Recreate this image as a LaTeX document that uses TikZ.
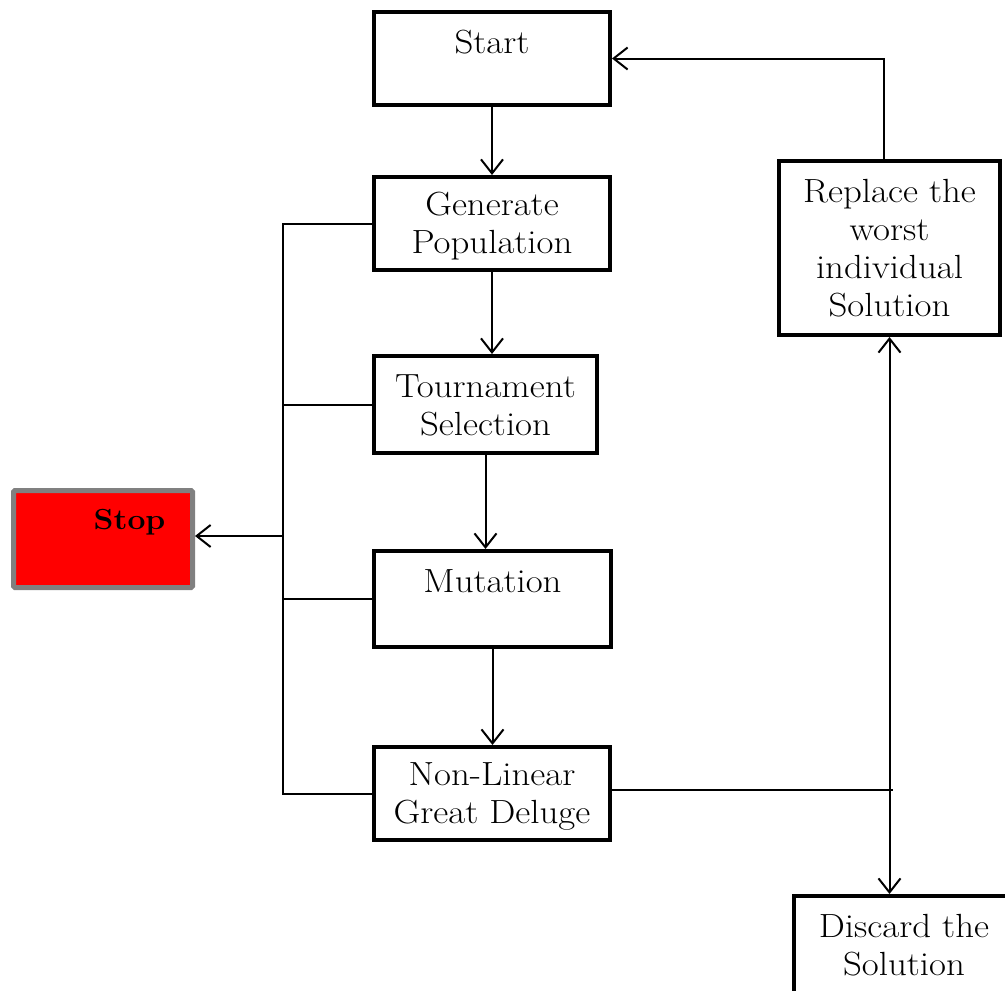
\documentclass[tikz,border=0pt]{standalone}
\usepackage{fontspec}
\setmainfont{Latin Modern Roman}[FakeStretch=1.1]
\usetikzlibrary{arrows.meta,calc}
\begin{document}
\begin{tikzpicture}[x=1pt,y=-1pt,
  stepbox/.style={draw, line width=4pt, inner sep=0pt},
  boxtext/.style={font=\fontsize{33.5}{38}\selectfont, align=center, inner sep=0pt},
  link/.style={line width=2pt},
  arr/.style={link, -{Straight Barb[length=14pt,width=22pt]}},
  twoway/.style={link, {Straight Barb[length=14pt,width=22pt]}-{Straight Barb[length=14pt,width=22pt]}},
]
\useasboundingbox (0,0) rectangle (1005,991);
\clip (0,0) rectangle (1005,991);

% process boxes
\node[stepbox, minimum width=236pt, minimum height=93pt] (start) at (492,58.5) {};
\node[stepbox, minimum width=236pt, minimum height=93pt] (gen) at (492,223.5) {};
\node[stepbox, minimum width=223pt, minimum height=97pt] (tour) at (485.5,404.5) {};
\node[stepbox, minimum width=237pt, minimum height=96pt] (mut) at (492.5,599) {};
\node[stepbox, minimum width=236pt, minimum height=93pt] (nlgd) at (492,793.5) {};
\node[stepbox, minimum width=221pt, minimum height=174pt] (repl) at (889.5,248) {};
\node[stepbox, minimum width=250pt, minimum height=110pt] (disc) at (919,951) {};
\node[draw=gray, fill=red, line width=5pt, rounded corners=1.5pt,
      minimum width=179pt, minimum height=97pt] (stop) at (103,539) {};

% box labels, set near the top of each box
\node[boxtext] (startT) at ($(start.north)+(0,32)$) {Start};
\node[boxtext] (genT) at ($(gen.north)+(0,51)$) {Generate\\Population};
\node[boxtext] (tourT) at ($(tour.north)+(0,51)$) {Tournament\\Selection};
\node[boxtext] (mutT) at ($(mut.north)+(0,32)$) {Mutation};
\node[boxtext] (nlgdT) at ($(nlgd.north)+(0,51)$) {Non-Linear\\Great Deluge};
\node[boxtext] (replT) at ($(repl.north)+(0,89)$) {Replace the\\worst\\individual\\Solution};
\node[boxtext] (discT) at ($(disc.north west)+(112,51)$) {Discard the\\Solution};
\node[inner sep=0pt, font=\fontsize{29}{34}\selectfont\bfseries] (stopT) at (129.5,522) {Stop};

% main flow
\draw[arr] (start) -- (gen);
\draw[arr] (gen.south) -- (gen.south |- tour.north);
\draw[arr] (tour.south) -- (tour.south |- mut.north);
\draw[arr] (mut.south) -- (mut.south |- nlgd.north);

% left bus to Stop
\coordinate (bus) at (283,0);
\coordinate (stopin) at ([yshift=3pt]stop.east);
\draw[link] (gen.west) -- (gen.west -| bus) -- (nlgd.west -| bus) -- (nlgd.west);
\draw[link] (tour.west) -- (tour.west -| bus);
\draw[link] (mut.west) -- (mut.west -| bus);
\draw[arr] (stopin -| bus) -- (stopin);

% right branch
\coordinate (nlgdout) at ([yshift=3.5pt]nlgd.east);
\coordinate (jn) at (nlgdout -| repl.south);
\draw[link] (nlgdout) -- ([xshift=3pt]jn);
\draw[twoway] (repl.south) -- (repl.south |- disc.north);
\draw[arr] ([xshift=-6pt]repl.north) |- (start.east);
\end{tikzpicture}
\end{document}
